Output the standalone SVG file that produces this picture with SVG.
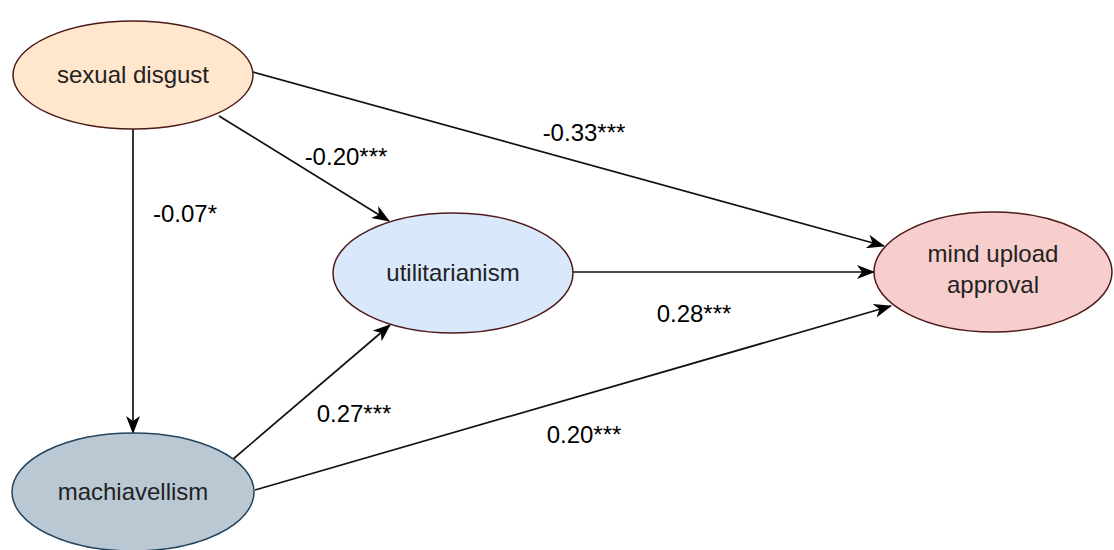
<svg xmlns="http://www.w3.org/2000/svg" width="1114" height="550" viewBox="0 0 1114 550">
<style>
.node-text{font-family:"Liberation Sans",Arial,sans-serif;font-size:24px;fill:#222;text-anchor:middle;}
.lbl{font-family:"Liberation Sans",Arial,sans-serif;font-size:24px;fill:#000;text-anchor:middle;}
.edge{stroke:#111;stroke-width:1.7;fill:none;marker-end:url(#arr);}
</style>
<defs>
<marker id="arr" markerUnits="userSpaceOnUse" viewBox="0 0 18 14" refX="17" refY="7" markerWidth="18" markerHeight="14" orient="auto">
<path d="M0,0 L18,7 L0,14 L5,7 z" fill="#000"/>
</marker>
</defs>
<rect width="1114" height="550" fill="#fff"/>
<g id="connectors">
<line class="edge" x1="253" y1="72" x2="884" y2="246"/>
<line class="edge" x1="219" y1="116" x2="389" y2="221"/>
<line class="edge" x1="133" y1="129" x2="133" y2="433"/>
<line class="edge" x1="573" y1="272" x2="874" y2="272"/>
<line class="edge" x1="232" y1="460" x2="390" y2="325"/>
<line class="edge" x1="255" y1="490" x2="891" y2="306"/>
<text class="lbl" x="584" y="141">-0.33***</text>
<text class="lbl" x="346" y="165">-0.20***</text>
<text class="lbl" x="185" y="222">-0.07*</text>
<text class="lbl" x="694" y="322">0.28***</text>
<text class="lbl" x="354" y="422">0.27***</text>
<text class="lbl" x="584" y="443">0.20***</text>
</g>
<g id="sexual-disgust">
<ellipse cx="133" cy="75" rx="120" ry="54" fill="#ffe6cc" stroke="#4d1a1a" stroke-width="1.5"/>
<text class="node-text" x="133" y="83">sexual disgust</text>
</g>
<g id="utilitarianism">
<ellipse cx="453" cy="273" rx="120" ry="60" fill="#dae8fc" stroke="#4d1a1a" stroke-width="1.5"/>
<text class="node-text" x="453" y="281">utilitarianism</text>
</g>
<g id="mind-upload-approval">
<ellipse cx="993" cy="272" rx="119" ry="60" fill="#f8cecc" stroke="#4d1a1a" stroke-width="1.5"/>
<text class="node-text" x="993" y="262">mind upload</text>
<text class="node-text" x="993" y="293">approval</text>
</g>
<g id="machiavellism">
<ellipse cx="133" cy="492" rx="121" ry="59" fill="#bac8d3" stroke="#23445d" stroke-width="1.5"/>
<text class="node-text" x="133" y="500">machiavellism</text>
</g>
</svg>
